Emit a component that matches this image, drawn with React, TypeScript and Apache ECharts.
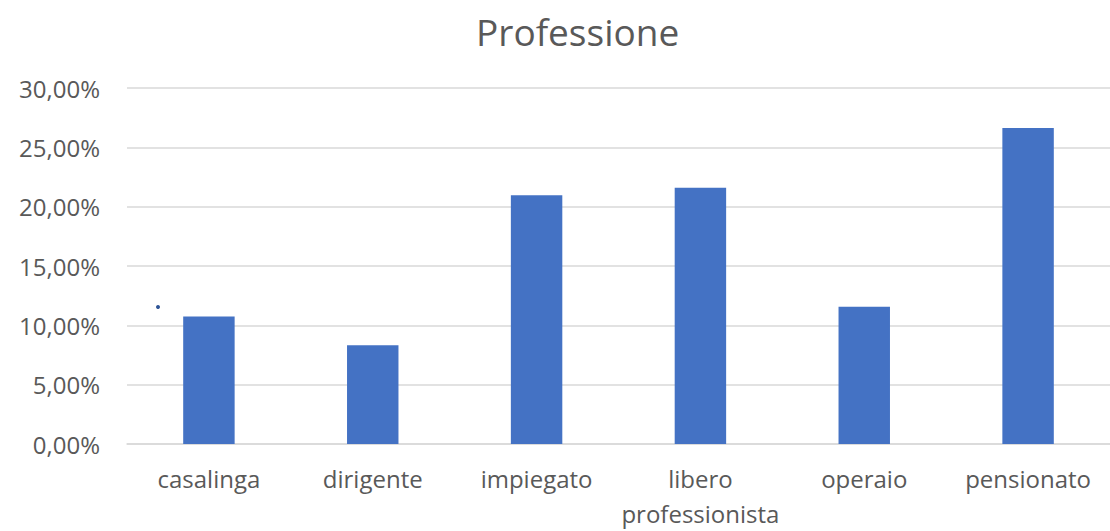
import React, { useEffect, useRef } from "react";
import * as echarts from "echarts";

const categories = ["casalinga", "dirigente", "impiegato", "libero\nprofessionista", "operaio", "pensionato"];
const values = [10.75, 8.33, 20.97, 21.6, 11.56, 26.62];
const title = "Professione";

export default function App() {
  const ref = useRef<HTMLDivElement>(null);
  useEffect(() => {
    const chart = echarts.init(ref.current!, undefined, { renderer: "svg" });
    chart.setOption({
      animation: false,
      backgroundColor: "#ffffff",
      title: {
        text: title,
        left: 471,
        top: 8,
        textStyle: { fontFamily: "Open Sans", fontSize: 37, fontWeight: "normal", color: "#595959" },
      },
      grid: { left: 127, right: -17, top: 88, bottom: 79, containLabel: false },
      xAxis: {
        type: "category",
        data: categories,
        axisLine: { lineStyle: { color: "#d9d9d9", width: 1.5 } },
        axisTick: { show: false },
        axisLabel: {
          fontFamily: "Open Sans",
          fontSize: 24,
          color: "#595959",
          margin: 17,
          lineHeight: 35,
          interval: 0,
        },
      },
      yAxis: {
        type: "value",
        min: 0,
        max: 30,
        interval: 5,
        axisLine: { show: false },
        axisTick: { show: false },
        splitLine: { lineStyle: { color: "#d9d9d9", width: 1.5 } },
        axisLabel: {
          fontFamily: "Open Sans",
          fontSize: 24,
          color: "#595959",
          margin: 27,
          formatter: (v: number) => v.toFixed(2).replace(".", ",") + "%",
        },
      },
      series: [
        {
          type: "bar",
          data: values,
          barWidth: "31.4%",
          itemStyle: { color: "#4472c4" },
        },
      ],
      graphic: [
        { type: "circle", shape: { cx: 158, cy: 307, r: 2 }, style: { fill: "#2f5597" } },
      ],
    });
    return () => chart.dispose();
  }, []);
  return (
    <div
      ref={ref}
      style={{ position: "fixed", left: 0, top: 0, width: 1110, height: 531, background: "#fff" }}
    />
  );
}
